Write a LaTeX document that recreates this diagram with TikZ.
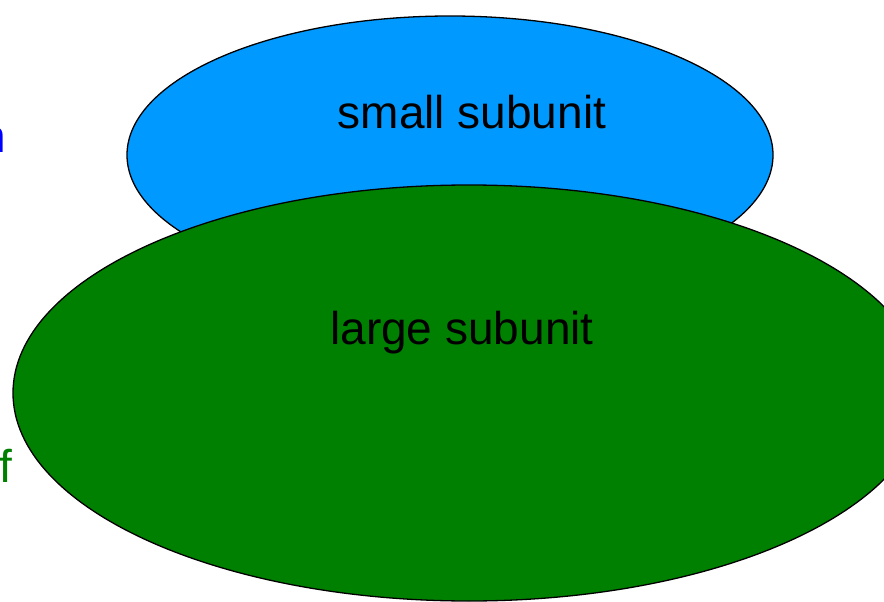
\documentclass[tikz,border=0pt]{standalone}
\usepackage{fontspec}
\setmainfont{Liberation Sans}
\definecolor{smallblue}{RGB}{0,153,255}
\definecolor{largegreen}{RGB}{0,128,0}
\begin{document}
\begin{tikzpicture}[x=1pt,y=-1pt,
  subunit/.style={draw=black,line width=1.3pt},
  lbl/.style={font=\fontsize{46}{50}\selectfont,text=black,inner sep=0pt},
  edgelbl/.style={font=\fontsize{46}{50}\selectfont,inner sep=0pt,anchor=base east}]
\useasboundingbox (0,0) rectangle (884,602);
\clip (0,0) rectangle (884,602);
\fill[white] (0,0) rectangle (884,602);
\filldraw[subunit,fill=smallblue] (450,155) ellipse [x radius=323, y radius=139];
\filldraw[subunit,fill=largegreen] (469,393) ellipse [x radius=456, y radius=208];
\node[lbl] (small) at (472,112) {small subunit};
\node[lbl] (large) at (462,333) {large subunit};
\node[edgelbl,text=blue] (edgeA) at (6,152) {n};
\node[edgelbl,text=largegreen] (edgeB) at (12,482) {f};
\end{tikzpicture}
\end{document}
